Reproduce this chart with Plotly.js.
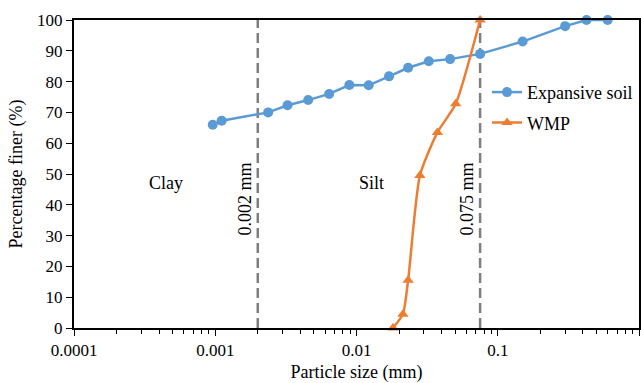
<!DOCTYPE html>
<html>
<head>
<meta charset="utf-8">
<script src="https://cdn.plot.ly/plotly-3.0.1.min.js"></script>
<style>
  html, body { margin: 0; padding: 0; background: #fff; }
  #chart { width: 641px; height: 383px; }
</style>
</head>
<body>
<div id="chart"></div>
<script>
// Particle size distribution (grading curves)
const soilSize = [0.00096, 0.00111, 0.00237, 0.00325, 0.00455, 0.0064, 0.0089, 0.0122, 0.0170, 0.0232, 0.0325, 0.046, 0.075, 0.15, 0.3, 0.425, 0.6];
const soilFiner = [66, 67.3, 70, 72.3, 74, 76, 78.9, 78.8, 81.7, 84.5, 86.6, 87.3, 89, 93, 98, 100, 100];

const wmpSize = [0.0181, 0.0213, 0.0232, 0.0281, 0.0374, 0.0504, 0.075];
const wmpFiner = [0, 4.5, 15.5, 49.5, 63.5, 72.8, 100];

// Boundaries between clay / silt / sand (mm)
const clayLimit = 0.002;
const siltLimit = 0.075;
const boundaryY = [0, 100];

const xTickVals = [0.0001, 0.001, 0.01, 0.1, 1];
const xTickText = ['0.0001', '0.001', '0.01', '0.1', '1'];

// Region labels (x in mm, y in %)
const regionNames = ['Clay', 'Silt'];
const regionX = [0.00045, 0.0127];
const regionY = [47, 47];

const serif = 'Liberation Serif, Times New Roman, serif';
const dashGrey = '#7f7f7f';

const traces = [
  {
    x: [clayLimit, clayLimit], y: boundaryY, mode: 'lines', showlegend: false, hoverinfo: 'skip',
    line: { color: dashGrey, width: 2.5, dash: '10px,5px' }
  },
  {
    x: [siltLimit, siltLimit], y: boundaryY, mode: 'lines', showlegend: false, hoverinfo: 'skip',
    line: { color: dashGrey, width: 2.5, dash: '10px,5px' }
  },
  {
    x: soilSize, y: soilFiner, name: 'Expansive soil', legendgroup: 'soil', mode: 'lines+markers', cliponaxis: false,
    line: { color: '#5b9bd5', width: 2.5 },
    marker: { symbol: 'circle', size: 10, color: '#5b9bd5' }
  },
  {
    x: wmpSize, y: wmpFiner, name: 'WMP', legendgroup: 'wmp', mode: 'lines+markers', cliponaxis: false,
    line: { color: '#ed7d31', width: 2.5, shape: 'spline', smoothing: 0.6 },
    marker: { symbol: 'triangle-up', size: 10, color: '#ed7d31' }
  }
];

const annotations = regionNames.map((t, i) => ({
  x: Math.log10(regionX[i]), y: regionY[i], xref: 'x', yref: 'y',
  text: t, showarrow: false, font: { family: serif, size: 18, color: '#000' }
}));
[[clayLimit, 0.00162], [siltLimit, 0.0605]].forEach(([lim, pos], i) => {
  annotations.push({
    x: Math.log10(pos), y: 42, xref: 'x', yref: 'y',
    text: (i === 0 ? '0.002' : '0.075') + ' mm', textangle: -90, showarrow: false,
    font: { family: serif, size: 18, color: '#000' }
  });
});

const layout = {
  width: 641, height: 383,
  margin: { l: 74, r: 2, t: 20, b: 55 },
  paper_bgcolor: '#fff', plot_bgcolor: '#fff',
  font: { family: serif, size: 17, color: '#000' },
  showlegend: true,
  legend: {
    x: 0.731, y: 0.825, xanchor: 'left', yanchor: 'top',
    traceorder: 'grouped', tracegroupgap: 4,
    bgcolor: 'rgba(0,0,0,0)', font: { family: serif, size: 18, color: '#000' }
  },
  xaxis: {
    type: 'log', range: [-4, 0],
    tickmode: 'array', tickvals: xTickVals, ticktext: xTickText,
    ticks: 'outside', ticklen: 6, tickwidth: 1, tickcolor: '#000',
    minor: { tickmode: 'linear', dtick: 'D1', ticks: 'outside', ticklen: 4, tickwidth: 1, tickcolor: '#000', showgrid: false },
    showgrid: false, zeroline: false,
    showline: true, linecolor: '#000', linewidth: 2, mirror: true,
    title: { text: 'Particle size (mm)', font: { family: serif, size: 18, color: '#000' }, standoff: 10 }
  },
  yaxis: {
    range: [0, 100], dtick: 10,
    ticks: 'outside', ticklen: 6, tickwidth: 1, tickcolor: '#000',
    showgrid: false, zeroline: false,
    showline: true, linecolor: '#000', linewidth: 2, mirror: true,
    title: { text: 'Percentage finer (%)', font: { family: serif, size: 18, color: '#000' }, standoff: 10 }
  },
  annotations: annotations
};

Plotly.newPlot('chart', traces, layout, { displayModeBar: false, staticPlot: true });
</script>
</body>
</html>
